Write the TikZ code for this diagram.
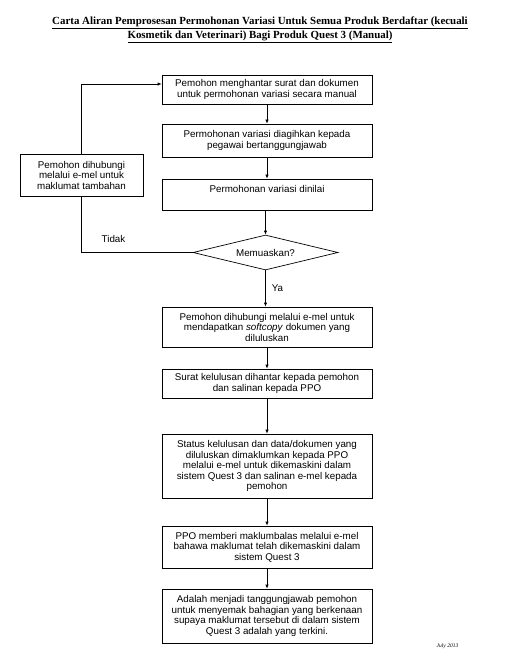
\documentclass[tikz,border=0pt]{standalone}
\usepackage{fontspec}
\setmainfont{Liberation Serif}
\newfontfamily\arial{Liberation Sans}
\usetikzlibrary{shapes.geometric,arrows.meta}
\begin{document}
\begin{tikzpicture}[x=1pt,y=-1pt,
  box/.style={draw,line width=0.7pt,minimum width=210pt,inner sep=0pt,align=center,
    font=\arial\fontsize{9.8}{10.5}\selectfont},
  arr/.style={line width=0.7pt,-{Latex[length=4pt,width=3.5pt]}},
  lin/.style={line width=0.7pt},
  lbl/.style={font=\arial\fontsize{9.8}{10.5}\selectfont,inner sep=0pt}]
\useasboundingbox (0,0) rectangle (512,660);
\node[font=\bfseries\fontsize{10.9}{14}\selectfont,align=center] (title) at (260,30)
  {\underline{Carta Aliran Pemprosesan Permohonan Variasi Untuk Semua Produk Berdaftar (kecuali}\\
   \underline{Kosmetik dan Veterinari) Bagi Produk Quest 3 (Manual)}};
\node[box,minimum height=29pt] (b1) at (267,89.5)
  {Pemohon menghantar surat dan dokumen\\untuk permohonan variasi secara manual};
\node[box,minimum height=33pt] (b2) at (267,140.5)
  {Permohonan variasi diagihkan kepada\\pegawai bertanggungjawab};
\node[box,minimum height=31pt] (b3) at (267,194.5)
  {Permohonan variasi dinilai\\\mbox{}};
\node[draw,diamond,shape aspect=4.14,line width=0.7pt,minimum width=145pt,minimum height=35pt,inner sep=0pt,
  font=\arial\fontsize{9.8}{10.5}\selectfont] (d) at (265.5,252.5) {Memuaskan?};
\node[box,minimum width=123pt,minimum height=42pt] (lb) at (81.5,175)
  {Pemohon dihubungi\\melalui e-mel untuk\\maklumat tambahan};
\node[box,minimum height=40pt] (b4) at (267,327)
  {Pemohon dihubungi melalui e-mel untuk\\mendapatkan \textit{softcopy} dokumen yang\\diluluskan};
\node[box,minimum height=29pt] (b5) at (267,383.5)
  {Surat kelulusan dihantar kepada pemohon\\dan salinan kepada PPO};
\node[box,minimum height=64pt] (b6) at (267,466)
  {Status kelulusan dan data/dokumen yang\\diluluskan dimaklumkan kepada PPO\\melalui e-mel untuk dikemaskini dalam\\sistem Quest 3 dan salinan e-mel kepada\\pemohon};
\node[box,minimum height=42pt] (b7) at (267,547)
  {PPO memberi maklumbalas melalui e-mel\\bahawa maklumat telah dikemaskini dalam\\sistem Quest 3};
\node[box,minimum height=54pt] (b8) at (267,616)
  {Adalah menjadi tanggungjawab pemohon\\untuk menyemak bahagian yang berkenaan\\supaya maklumat tersebut di dalam sistem\\Quest 3 adalah yang terkini.};
\node[font=\itshape\fontsize{5.5}{6}\selectfont,inner sep=0pt] (date) at (447.5,646) {July 2013};
\node[lbl] (tidak) at (113.5,239) {Tidak};
\node[lbl] (ya) at (277.5,288) {Ya};
\draw[arr] (b1) -- (b2);
\draw[arr] (b2) -- (b3);
\draw[arr] (b3.south -| d.north) -- (d.north);
\draw[arr] (d.south) -- (b4.north -| d.south);
\draw[arr] (b4) -- (b5);
\draw[arr] (b5) -- (b6);
\draw[arr] (b6) -- (b7);
\draw[arr] (b7) -- (b8);
\draw[lin] (d.west) -| (lb.south);
\draw[arr] (lb.north) |- ([yshift=5.5pt]b1.west);
\end{tikzpicture}
\end{document}
